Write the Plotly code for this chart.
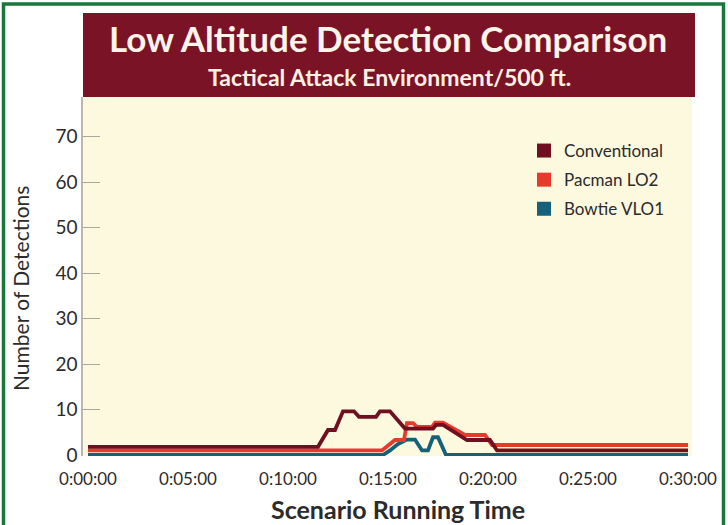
import plotly.graph_objects as go

# Scenario time in minutes, detections per aircraft type
conv_t = [0, 11.5, 12.0, 12.35, 12.75, 13.3, 13.55, 14.4, 14.6, 15.1, 15.85, 17.25, 17.4, 17.75, 18.95, 20.1, 20.45, 30]
conv_v = [1.8, 1.8, 5.5, 5.5, 9.6, 9.6, 8.4, 8.4, 9.6, 9.6, 5.8, 5.8, 6.6, 6.6, 3.3, 3.3, 1.0, 1.0]

pac_t = [0, 14.7, 15.35, 15.8, 15.95, 16.25, 16.45, 17.2, 17.35, 17.75, 18.85, 19.85, 20.2, 30]
pac_v = [1.0, 1.0, 3.3, 3.3, 7.0, 7.0, 6.2, 6.2, 7.1, 7.1, 4.4, 4.4, 2.2, 2.2]

bow_t = [0, 14.75, 15.1, 15.5, 15.95, 16.35, 16.7, 17.0, 17.25, 17.5, 17.9, 30]
bow_v = [0, 0, 1.0, 2.4, 3.4, 3.4, 1.0, 1.0, 3.9, 3.9, 0, 0]

series_names = ["Conventional", "Pacman LO2", "Bowtie VLO1"]
series_colors = ["#6f0f1f", "#e63a2c", "#16617a"]

x_ticks = [0, 5, 10, 15, 20, 25, 30]
x_labels = ["0:00:00", "0:05:00", "0:10:00", "0:15:00", "0:20:00", "0:25:00", "0:30:00"]
y_ticks = [0, 10, 20, 30, 40, 50, 60, 70]

FONT = "Lato"
TEXT = "#2b2b2b"

fig = go.Figure()

series = [(conv_t, conv_v), (pac_t, pac_v), (bow_t, bow_v)]
# draw order: teal first, then red, then maroon on top
for idx in [2, 1, 0]:
    t, v = series[idx]
    fig.add_trace(go.Scatter(
        x=t, y=v, mode="lines",
        line=dict(color=series_colors[idx], width=3.8),
        showlegend=False, hoverinfo="skip",
    ))

# square swatches for the legend
for i, (name, col) in enumerate(zip(series_names, series_colors)):
    fig.add_trace(go.Scatter(
        x=[None], y=[None], mode="markers", name=name,
        legendgroup=f"g{i}",
        marker=dict(symbol="square", size=14, color=col),
    ))

W, H = 728, 525
L, R, T, B = 83, 36, 97, 69
pw, ph = W - L - R, H - T - B

def px(x):
    return (x - L) / pw

def py(y):
    return (H - B - y) / ph

shapes = [
    # maroon title band
    dict(type="rect", xref="paper", yref="paper",
         x0=0, x1=px(695), y0=1, y1=py(13),
         fillcolor="#7a1326", line=dict(width=0), layer="below"),
    # green frame
    dict(type="path", xref="paper", yref="paper",
         path=f"M {px(3.5)} {py(540)} L {px(3.5)} {py(4)} L {px(723.5)} {py(4)} L {px(723.5)} {py(540)}",
         line=dict(color="#17783a", width=3.5)),
]

annotations = [
    dict(text="<b>Low Altitude Detection Comparison</b>", xref="paper", yref="paper",
         x=px(388), y=py(38), xanchor="center", yanchor="middle", showarrow=False,
         font=dict(family=FONT, size=35, color="#fbf4ea")),
    dict(text="<b>Tactical Attack Environment/500 ft.</b>", xref="paper", yref="paper",
         x=px(389), y=py(77), xanchor="center", yanchor="middle", showarrow=False,
         font=dict(family=FONT, size=23, color="#fbf0e2")),
    dict(text="Number of Detections", xref="paper", yref="paper",
         x=px(20), y=py(289), xanchor="center", yanchor="middle", showarrow=False,
         textangle=-90, font=dict(family=FONT, size=21, color=TEXT)),
    dict(text="<b>Scenario Running Time</b>", xref="paper", yref="paper",
         x=px(398), y=py(509), xanchor="center", yanchor="middle", showarrow=False,
         font=dict(family=FONT, size=25, color=TEXT)),
]

px_per_min = 20.0
px_per_unit = 4.55
x0_px = 88
y0_px = 455

fig.update_layout(
    width=W, height=H,
    margin=dict(l=L, r=R, t=T, b=B, pad=0),
    paper_bgcolor="white",
    plot_bgcolor="#fdf9de",
    shapes=shapes,
    annotations=annotations,
    legend=dict(
        x=px(524), y=py(133), xanchor="left", yanchor="top",
        bgcolor="rgba(0,0,0,0)", traceorder="grouped", tracegroupgap=4,
        font=dict(family=FONT, size=17, color=TEXT),
        itemwidth=30,
    ),
    xaxis=dict(
        range=[(L - x0_px) / px_per_min, (W - R - x0_px) / px_per_min],
        tickvals=x_ticks, ticktext=x_labels,
        ticks="outside", ticklen=8, tickcolor="rgba(0,0,0,0)",
        showgrid=False, zeroline=False, showline=False,
        tickfont=dict(family=FONT, size=17, color=TEXT),
    ),
    yaxis=dict(
        range=[-(H - B - y0_px) / px_per_unit, (y0_px - T) / px_per_unit],
        tickvals=y_ticks,
        ticks="inside", ticklen=17, tickcolor="#a8a8a0", tickwidth=1,
        showgrid=False, zeroline=False,
        showline=True, linecolor="#b8b8b0", linewidth=1.5,
        tickfont=dict(family=FONT, size=19, color=TEXT),
    ),
)

fig.write_html("out.html")
